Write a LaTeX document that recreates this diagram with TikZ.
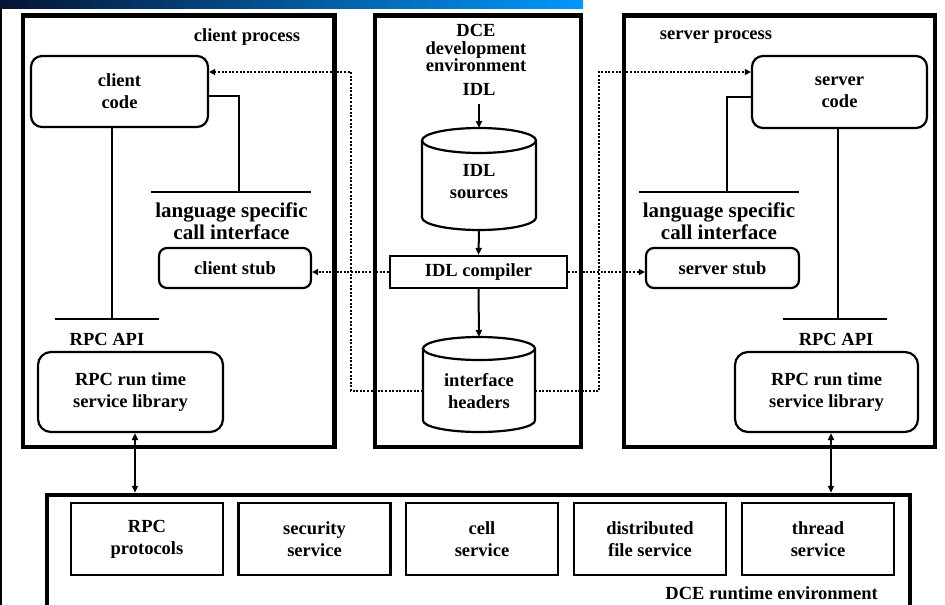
\documentclass[tikz,border=0pt]{standalone}
\usepackage{fontspec}
\setmainfont{Liberation Serif}
\usetikzlibrary{arrows.meta}

\begin{document}
\begin{tikzpicture}[x=1pt,y=-1pt,
  txt/.style={font=\fontsize{18.5}{22}\selectfont\bfseries, align=center, inner sep=0pt},
  bigtxt/.style={font=\fontsize{21}{22}\selectfont\bfseries, align=center, inner sep=0pt},
  frame/.style={draw, line width=4.5pt, inner sep=0pt},
  rbox/.style={draw, line width=2.2pt, rounded corners=11pt, inner sep=0pt, align=center,
    font=\fontsize{18.5}{22}\selectfont\bfseries},
  sbox/.style={draw, line width=2.4pt, inner sep=0pt, align=center,
    font=\fontsize{18.5}{22}\selectfont\bfseries},
  ln/.style={line width=2pt},
  arr/.style={line width=2pt, -{Triangle[length=7pt,width=6pt]}},
  arrboth/.style={line width=2pt, {Triangle[length=7pt,width=6pt]}-{Triangle[length=7pt,width=6pt]}},
  dotarr/.style={line width=2pt, dash pattern=on 2pt off 1.6pt, -{Triangle[length=6pt,width=6pt]}}
]
\useasboundingbox (0,0) rectangle (945,605);

% title bar and left rule
\shade[left color={rgb,255:red,6;green,20;blue,52}, right color={rgb,255:red,0;green,152;blue,252}]
  (0,0) rectangle (583,8);
\draw[line width=2pt] (1,8) -- (1,605);

% the three upper frames
\node[frame, minimum width=311.5pt, minimum height=431.5pt] (cproc) at (178.75,231.25) {};
\node[frame, minimum width=206pt, minimum height=431.5pt] (dev) at (478,231.25) {};
\node[frame, minimum width=311pt, minimum height=431.5pt] (sproc) at (779.5,231.25) {};

% runtime frame (runs off the bottom edge)
\node[frame, minimum width=863pt, minimum height=150pt] (rte) at (478.5,570) {};

% ---------- client side ----------
\node[txt] (cproclbl) at (247,37) {client process};
\node[rbox, minimum width=177pt, minimum height=71pt] (ccode) at (119.5,91.5) {client\\code};
\coordinate (clangL) at (151,192);
\coordinate (clangR) at (311,192);
\coordinate (clangM) at (239,192);
\coordinate (cj) at (239,96);
\draw[ln] (clangL) -- (clangR);
\draw[ln] (cj -| ccode.east) -- (cj) -- (clangM);
\node[bigtxt] (clanglbl) at (231.5,221) {language specific\\call interface};
\node[rbox, rounded corners=8pt, minimum width=152pt, minimum height=40pt] (cstub) at (235,268) {client stub};
\coordinate (capiL) at (55,319);
\coordinate (capiR) at (159,319);
\coordinate (capiM) at (112,319);
\draw[ln] (capiL) -- (capiR);
\draw[ln] (capiM |- ccode.south) -- (capiM);
\node[txt] (capilbl) at (107,339) {RPC API};
\node[rbox, rounded corners=13pt, minimum width=185pt, minimum height=80pt] (clib) at (130.5,392) {RPC run time\\service library};

% ---------- development environment ----------
\node[txt, font=\fontsize{18.5}{17.5}\selectfont\bfseries] (devlbl) at (476,48) {DCE\\development\\environment};
\node[txt] (idl) at (479,89) {IDL};
\coordinate (idlout) at (479,104);

% IDL sources cylinder
\coordinate (srcTop) at (479,128);
\coordinate (srcBot) at (479,230);
\draw[line width=2.2pt] (422,140.5) -- (422,217.5)
  arc[start angle=180, end angle=0, x radius=57, y radius=12.5] -- (536,140.5);
\draw[line width=2.2pt] (479,140.5) ellipse[x radius=57, y radius=12.5];
\node[txt] (src) at (479,182) {IDL\\sources};

\node[sbox, line width=2.2pt, minimum width=177pt, minimum height=32pt] (idlc) at (478.5,272) {IDL compiler};

% interface headers cylinder
\coordinate (hdrTop) at (479,337);
\coordinate (hdrL) at (423,391);
\coordinate (hdrR) at (535,391);
\draw[line width=2.2pt] (423,348.5) -- (423,420.5)
  arc[start angle=180, end angle=0, x radius=56, y radius=11.5] -- (535,348.5);
\draw[line width=2.2pt] (479,348.5) ellipse[x radius=56, y radius=11.5];
\node[txt] (hdr) at (479,391) {interface\\headers};

\draw[arr] (idlout) -- (srcTop);
\draw[arr] (srcBot) -- (idlc.north);
\draw[arr] (idlc.south) -- (hdrTop);

% ---------- server side ----------
\node[txt] (sproclbl) at (716,37) {server process};
\node[rbox, minimum width=175pt, minimum height=72pt] (scode) at (839.5,92) {server\\code};
\coordinate (slangL) at (639,192);
\coordinate (slangR) at (799,192);
\coordinate (slangM) at (727,192);
\coordinate (sj) at (727,97);
\draw[ln] (slangL) -- (slangR);
\draw[ln] (sj -| scode.west) -- (sj) -- (slangM);
\node[bigtxt] (slanglbl) at (719,221) {language specific\\call interface};
\node[rbox, rounded corners=8pt, minimum width=153pt, minimum height=40pt] (sstub) at (722.5,268) {server stub};
\coordinate (sapiL) at (783,319);
\coordinate (sapiR) at (887,319);
\coordinate (sapiM) at (838,319);
\draw[ln] (sapiL) -- (sapiR);
\draw[ln] (sapiM |- scode.south) -- (sapiM);
\node[txt] (sapilbl) at (836,339) {RPC API};
\node[rbox, rounded corners=13pt, minimum width=183pt, minimum height=80pt] (slib) at (826.5,392) {RPC run time\\service library};

% ---------- generated code paths ----------
\coordinate (cdot) at (351,72);
\coordinate (sdot) at (599,72);
\draw[dotarr] (hdrL) -| (cdot) -- (cdot -| ccode.east);
\draw[dotarr] (hdrR) -| (sdot) -- (sdot -| scode.west);
\draw[dotarr] (idlc.west) -- (idlc.west -| cstub.east);
\draw[dotarr] (idlc.east) -- (idlc.east -| sstub.west);

% ---------- runtime services ----------
\node[sbox, minimum width=152pt, minimum height=72pt] (rpcp) at (147,539) {RPC\\protocols};
\node[sbox, minimum width=152pt, minimum height=72pt] (sec) at (314.5,539) {security\\service};
\node[sbox, minimum width=152pt, minimum height=72pt] (cell) at (482,539) {cell\\service};
\node[sbox, minimum width=152pt, minimum height=72pt] (dfs) at (650,539) {distributed\\file service};
\node[sbox, minimum width=152pt, minimum height=72pt] (thr) at (818,539) {thread\\service};
\node[txt, anchor=east] (rtelbl) at (878,593) {DCE runtime environment};

\draw[arrboth] ([xshift=4.5pt]clib.south) -- ([xshift=4.5pt]clib.south |- rte.north);
\draw[arrboth] ([xshift=4.5pt]slib.south) -- ([xshift=4.5pt]slib.south |- rte.north);
\end{tikzpicture}
\end{document}
